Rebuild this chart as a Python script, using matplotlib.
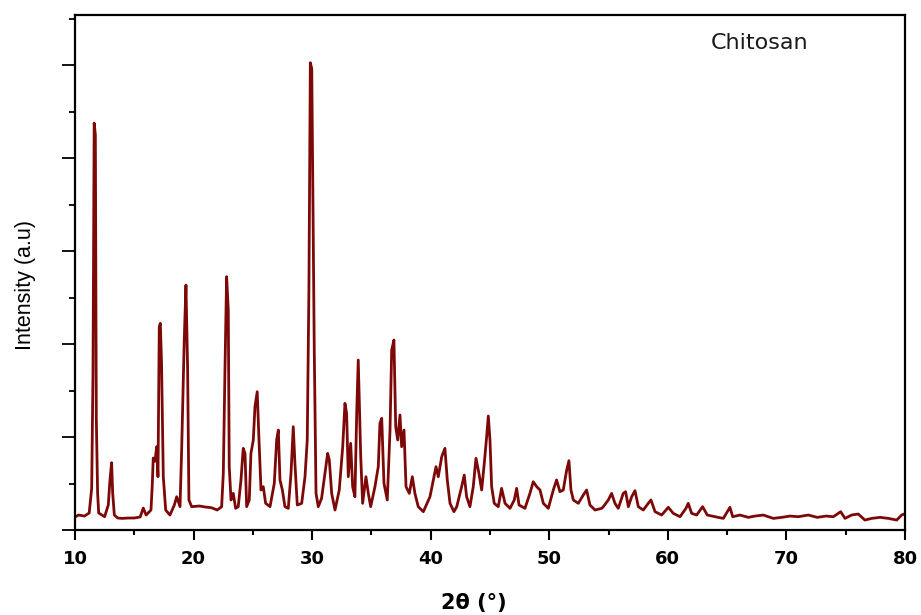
import matplotlib
matplotlib.use('Agg')
from matplotlib import pyplot as plt
from matplotlib.ticker import MultipleLocator

# XRD pattern of chitosan (arbitrary intensity units)
two_theta = [10.0, 10.3, 10.8, 11.2, 11.41, 11.52, 11.62, 11.72, 11.8, 11.91,
             12.0, 12.5, 12.81, 12.95, 13.09, 13.18, 13.32, 13.6, 14.0, 14.5,
             15.0, 15.5, 15.76, 16.0, 16.41, 16.52, 16.6, 16.75, 16.89, 17.0,
             17.11, 17.2, 17.3, 17.45, 17.65, 18.01, 18.38, 18.58, 18.86, 19.0,
             19.22, 19.36, 19.5, 19.61, 19.84, 20.5, 21.0, 21.5, 22.0, 22.37,
             22.51, 22.65, 22.79, 22.93, 23.01, 23.16, 23.35, 23.55, 23.77, 24.0,
             24.19, 24.34, 24.48, 24.7, 24.84, 25.04, 25.18, 25.37, 25.52, 25.69,
             25.88, 26.08, 26.45, 26.81, 27.01, 27.15, 27.29, 27.49, 27.71, 27.99,
             28.22, 28.41, 28.55, 28.75, 29.12, 29.4, 29.59, 29.73, 29.85, 29.97,
             30.18, 30.33, 30.52, 30.8, 31.08, 31.31, 31.45, 31.65, 31.93, 32.29,
             32.58, 32.77, 32.91, 33.05, 33.25, 33.42, 33.61, 33.76, 33.89, 34.1,
             34.26, 34.54, 34.74, 34.94, 35.3, 35.58, 35.72, 35.87, 36.06, 36.34,
             36.57, 36.71, 36.9, 37.05, 37.22, 37.41, 37.55, 37.75, 37.92, 38.2,
             38.45, 38.67, 38.95, 39.38, 39.94, 40.45, 40.64, 40.93, 41.2, 41.4,
             41.63, 41.96, 42.2, 42.61, 42.83, 43.03, 43.31, 43.59, 43.82, 44.07,
             44.3, 44.52, 44.72, 44.86, 45.0, 45.14, 45.36, 45.7, 45.98, 46.27,
             46.69, 47.05, 47.25, 47.45, 47.95, 48.37, 48.65, 48.94, 49.22, 49.5,
             49.92, 50.34, 50.62, 50.9, 51.18, 51.47, 51.66, 51.83, 52.03, 52.45,
             52.87, 53.15, 53.43, 53.86, 54.42, 54.56, 54.98, 55.26, 55.54, 55.82,
             56.24, 56.44, 56.67, 56.95, 57.23, 57.51, 57.93, 58.35, 58.58, 58.92,
             59.48, 60.04, 60.46, 61.03, 61.53, 61.72, 62.01, 62.43, 62.93, 63.33,
             63.98, 64.68, 65.24, 65.47, 66.08, 66.79, 67.35, 68.05, 68.9, 69.6,
             70.3, 71.0, 71.85, 72.6, 73.34, 73.96, 74.58, 74.94, 75.5, 76.06,
             76.62, 77.19, 77.9, 78.6, 79.3, 79.72, 80.0]
intensity = [140, 161, 150, 183, 451, 1688, 4376, 4247, 1200, 398,
             183, 143, 269, 537, 724, 398, 161, 129, 125, 129,
             129, 140, 236, 161, 215, 484, 774, 740, 896, 573,
             2186, 2222, 1800, 573, 215, 161, 269, 358, 251, 878,
             2061, 2634, 1738, 323, 251, 258, 247, 240, 215, 251,
             609, 1720, 2724, 2365, 681, 323, 394, 233, 251, 538,
             878, 824, 251, 323, 824, 968, 1326, 1487, 968, 430,
             466, 287, 251, 502, 968, 1075, 538, 430, 251, 233,
             609, 1111, 717, 269, 287, 573, 968, 2580, 5025, 4960,
             1953, 394, 251, 341, 609, 824, 752, 394, 215, 430,
             896, 1362, 1254, 573, 932, 466, 358, 1254, 1828, 788,
             287, 573, 394, 251, 466, 681, 1147, 1201, 502, 323,
             1075, 1935, 2043, 1111, 968, 1237, 896, 1075, 466, 394,
             573, 394, 251, 197, 358, 681, 573, 788, 878, 538,
             287, 197, 251, 466, 591, 358, 251, 466, 771, 609,
             430, 717, 1003, 1226, 968, 466, 287, 251, 448, 287,
             233, 323, 448, 269, 233, 394, 519, 466, 430, 287,
             233, 430, 538, 412, 430, 645, 745, 430, 323, 287,
             376, 430, 269, 215, 233, 251, 323, 394, 287, 233,
             394, 412, 251, 358, 423, 251, 215, 287, 323, 197,
             161, 244, 179, 143, 233, 287, 179, 161, 251, 161,
             143, 125, 244, 143, 161, 136, 150, 161, 125, 136,
             150, 143, 161, 136, 150, 143, 197, 125, 161, 172,
             107, 125, 136, 125, 107, 161, 175]

x_ticks = [10, 20, 30, 40, 50, 60, 70, 80]
sample = 'Chitosan'

fig = plt.figure(figsize=(9.21, 6.15), dpi=100)
ax = fig.add_axes([0.0814, 0.1382, 0.9012, 0.8374])

ax.plot(two_theta, intensity, color='#7c0808', lw=2.0)

ax.set_xlim(10, 80)
ax.set_ylim(0, 5538)
ax.set_xticks(x_ticks)
ax.xaxis.set_minor_locator(MultipleLocator(5))
ax.yaxis.set_major_locator(MultipleLocator(1000))
ax.yaxis.set_minor_locator(MultipleLocator(500))

ax.tick_params(axis='x', which='major', direction='out', length=7.2, width=1.5, pad=7, labelsize=13)
ax.tick_params(axis='x', which='minor', direction='out', length=3.6, width=1.5)
ax.tick_params(axis='y', which='major', direction='out', length=9.4, width=1.3, labelleft=False)
ax.tick_params(axis='y', which='minor', direction='out', length=4.5, width=1.3)
for lbl in ax.get_xticklabels():
    lbl.set_fontweight('bold')
    lbl.set_family('DejaVu Sans')

for s in ax.spines.values():
    s.set_linewidth(1.6)

ax.set_xlabel('2θ (°)', fontsize=15, fontweight='bold', family='DejaVu Sans')
ax.xaxis.set_label_coords(0.48, -0.142)
ax.xaxis.label.set_va('center')

ax.set_ylabel('Intensity (a.u)', fontsize=15.5, family=['Liberation Sans', 'DejaVu Sans'])
ax.yaxis.set_label_coords(-0.060, 0.476)
ax.yaxis.label.set_va('center')
ax.yaxis.label.set_ha('center')

ax.text(0.825, 0.946, sample, transform=ax.transAxes, ha='center', va='center',
        fontsize=16, family='DejaVu Sans', color='#1a1a1a')

plt.savefig('out.png', dpi=100)
